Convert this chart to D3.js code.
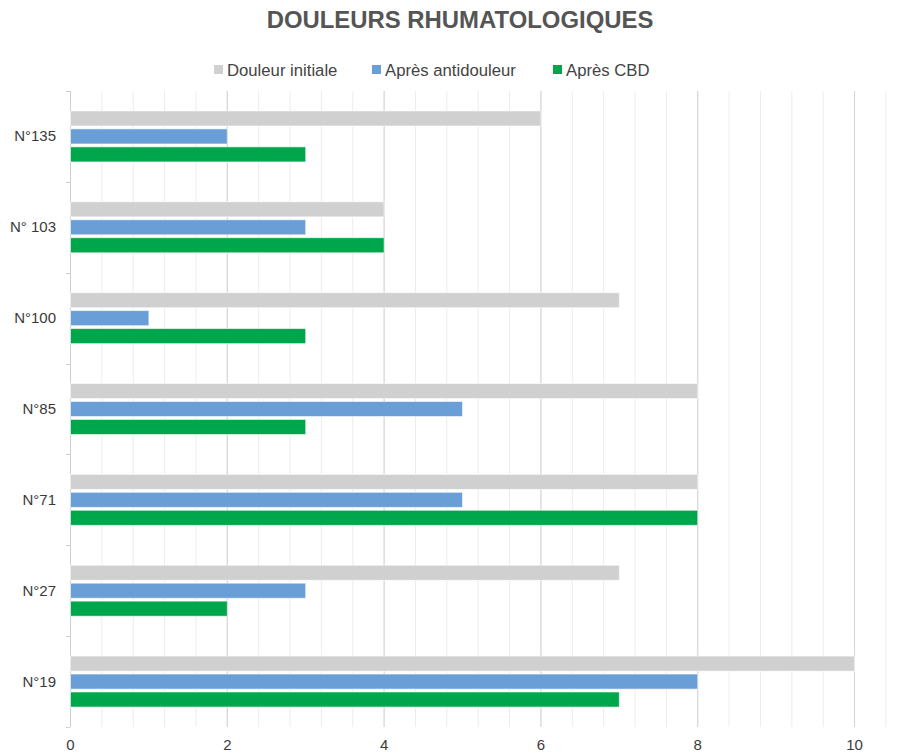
<!DOCTYPE html>
<html><head><meta charset="utf-8">
<script src="https://cdn.jsdelivr.net/npm/d3@7"></script>
<style>body{margin:0;background:#fff;} svg{display:block;font-family:"Liberation Sans",Arial,Helvetica,sans-serif;}</style>
</head><body>
<svg id="c" width="906" height="755"></svg>
<script>
const categories = ["N°135", "N° 103", "N°100", "N°85", "N°71", "N°27", "N°19"];
const seriesNames = ["Douleur initiale", "Après antidouleur", "Après CBD"];
const douleurInitiale = [6, 4, 7, 8, 8, 7, 10];
const apresAntidouleur = [2, 3, 1, 5, 5, 3, 8];
const apresCBD = [3, 4, 3, 3, 8, 2, 7];
const xTicks = [0, 2, 4, 6, 8, 10];
const colors = ["#d0d0d0", "#699ed7", "#00a64b"];

(function () {
const seriesValues = [douleurInitiale, apresAntidouleur, apresCBD];
const svg = d3.select("#c");
const pLeft = 70, pRight = 885.4, pTop = 91, pBottom = 727;

const x = d3.scaleLinear().domain([0, 10.4]).range([pLeft, pRight]);
const y0 = d3.scaleBand().domain(categories).range([pTop, pBottom]).padding(0);
const bw = y0.bandwidth();
const y1 = d3.scaleBand().domain(seriesNames).range([bw/2 - 25.5, bw/2 + 25.5]).paddingInner(0.16).paddingOuter(0);

// minor grid
const minor = d3.range(0, 10.41, 0.4).map(v => +v.toFixed(2));
svg.append("g").selectAll("line").data(minor).join("line")
  .attr("x1", d => x(d) + 0.5).attr("x2", d => x(d) + 0.5)
  .attr("y1", pTop).attr("y2", pBottom)
  .attr("stroke", "#ececec").attr("stroke-width", 1);
// major grid
svg.append("g").selectAll("line").data(xTicks.slice(1)).join("line")
  .attr("x1", d => x(d) + 0.5).attr("x2", d => x(d) + 0.5)
  .attr("y1", pTop).attr("y2", pBottom)
  .attr("stroke", "#d3d3d3").attr("stroke-width", 1);

// left axis
svg.append("line").attr("x1", pLeft + 0.5).attr("x2", pLeft + 0.5).attr("y1", pTop).attr("y2", pBottom)
  .attr("stroke", "#cfcfcf");
const bounds = categories.map(c => y0(c)).concat([pBottom]);
svg.append("g").selectAll("line").data(bounds).join("line")
  .attr("x1", pLeft - 4).attr("x2", pLeft).attr("y1", d => Math.round(d) + 0.5).attr("y2", d => Math.round(d) + 0.5)
  .attr("stroke", "#cfcfcf");

// bars
const rows = [];
categories.forEach((c, i) => seriesNames.forEach((s, j) => rows.push({c, s, j, v: seriesValues[j][i]})));
svg.append("g").selectAll("rect").data(rows).join("rect")
  .attr("x", x(0) + 0.5)
  .attr("y", d => y0(d.c) + y1(d.s))
  .attr("width", d => x(d.v) - x(0))
  .attr("height", y1.bandwidth())
  .attr("fill", d => colors[d.j])
  .attr("stroke", "rgba(255,255,255,0.6)").attr("stroke-width", 1);

// category labels
svg.append("g").selectAll("text").data(categories).join("text")
  .attr("x", 56).attr("y", c => y0(c) + bw/2 + 5)
  .attr("text-anchor", "end").attr("font-size", 15).attr("fill", "#3a3a3a")
  .text(c => c);

// x labels
svg.append("g").selectAll("text").data(xTicks).join("text")
  .attr("x", d => x(d) + 0.5).attr("y", 750)
  .attr("text-anchor", "middle").attr("font-size", 15).attr("fill", "#3a3a3a")
  .text(d => d);

// title
svg.append("text").attr("x", 460).attr("y", 27.5).attr("text-anchor", "middle")
  .attr("font-size", 23.9).attr("font-weight", "bold").attr("fill", "#555")
  .text("DOULEURS RHUMATOLOGIQUES");

// legend
const legX = [214, 372, 553];
const lg = svg.append("g").selectAll("g").data(seriesNames).join("g")
  .attr("transform", (d, i) => `translate(${legX[i]},65)`);
lg.append("rect").attr("width", 9).attr("height", 9).attr("fill", (d, i) => colors[i]);
lg.append("text").attr("x", 13).attr("y", 10.5).attr("font-size", 16.7).attr("fill", "#444").text(d => d);
})();
</script>
</body></html>
